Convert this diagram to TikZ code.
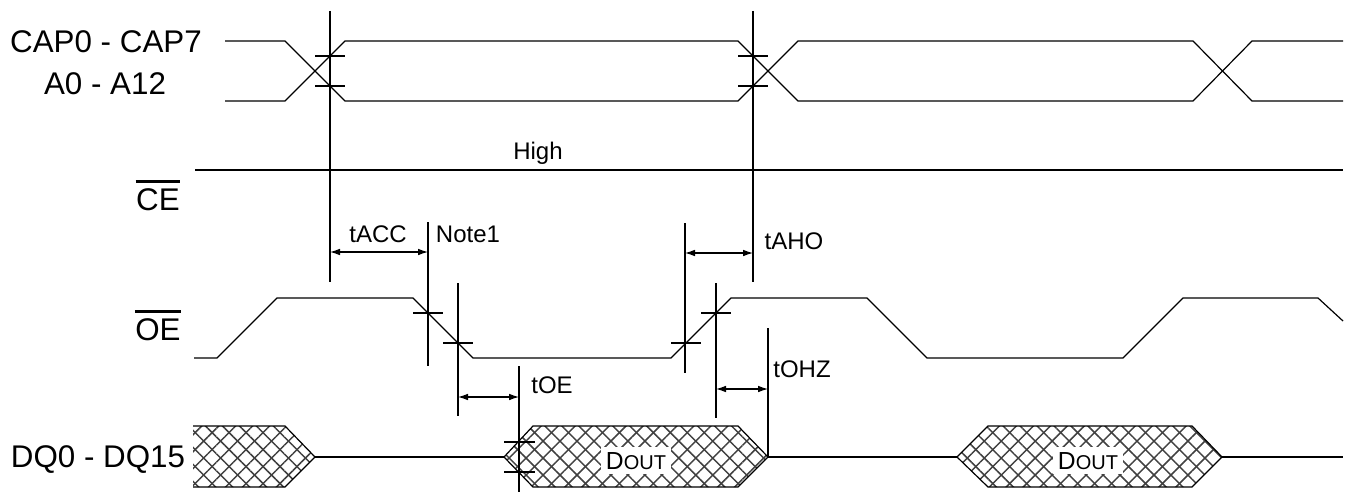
\documentclass[tikz,border=0pt]{standalone}
\usepackage{fontspec}
\setmainfont{Liberation Sans}
\usetikzlibrary{arrows.meta,patterns.meta}
\begin{document}
\begin{tikzpicture}[x=0.75pt,y=-0.75pt,line width=0.9pt,
  big/.style={font=\fontsize{23.5}{28}\selectfont,inner sep=0pt,anchor=base},
  lbl/.style={font=\fontsize{18}{22}\selectfont,inner sep=0pt,anchor=base},
  bar/.style={line width=1.7pt},
  dimarrow/.style={{Latex[length=7.5pt,width=5pt]}-{Latex[length=7.5pt,width=5pt]},line width=0.8pt},
  refline/.style={line width=0.9pt},
  hatch/.style={preaction={pattern={Lines[angle=45,distance=9pt,line width=1.1pt]},pattern color=black!75},
                preaction={pattern={Lines[angle=-45,distance=9pt,line width=1.1pt]},pattern color=black!75}},
  dout/.style={fill=white,inner xsep=3.5pt,inner ysep=3.5pt,anchor=base,font=\fontsize{18.5}{22}\selectfont}
]
\useasboundingbox (0,0) rectangle (1345,492);

% ---------- labels ----------
\node[big] (capl) at (106,53) {CAP0 - CAP7};
\node[big] (al) at (105,94) {A0 - A12};
\node[big] (cel) at (158,210) {CE};
\node[big] (oel) at (158,340) {OE};
\draw[bar] ([yshift=4.5pt]cel.north west)--([yshift=4.5pt]cel.north east);
\draw[bar] ([yshift=4.5pt]oel.north west)--([yshift=4.5pt]oel.north east);
\node[big] (dql) at (98,467) {DQ0 - DQ15};
\node[lbl] (high) at (538,159) {High};
\node[lbl] (tacc) at (378,242) {tACC};
\node[lbl] (note) at (468,242) {Note1};
\node[lbl] (taho) at (794,249) {tAHO};
\node[lbl] (tohz) at (802,377) {tOHZ};
\node[lbl] (toe) at (552,393) {tOE};

% ---------- address bus ----------
\draw (225,41)--(285,41)--(345,101)--(738,101)--(798,41)--(1193,41)--(1252,101)--(1343,101);
\draw (225,101)--(285,101)--(345,41)--(738,41)--(798,101)--(1193,101)--(1252,41)--(1343,41);
% ticks on crossings
\draw (315,56)--(345,56) (315,86)--(345,86);
\draw (738,56)--(768,56) (738,86)--(768,86);

% ---------- CE ----------
\draw (195,170)--(1343,170);

% ---------- OE ----------
\draw (194,358)--(217,358)--(277,298)--(413,298)--(473,358)--(671,358)--(731,298)--(867,298)--(927,358)--(1123,358)--(1183,298)--(1318,298)--(1343,321);
\draw (413,313)--(443,313) (443,343)--(473,343);
\draw (671,343)--(701,343) (701,313)--(731,313);

% ---------- DQ ----------
\path[hatch] (193,426)--(285,426)--(315,457)--(285,487)--(193,487)--cycle;
\draw (193,426)--(285,426)--(315,457)--(285,487)--(193,487);
\draw (315,457)--(504,457);
\path[hatch,draw] (504,457)--(533,426)--(738,426)--(768,457)--(738,487)--(533,487)--cycle;
\draw (768,457)--(957,457);
\path[hatch,draw] (957,457)--(988,426)--(1192,426)--(1222,457)--(1192,487)--(988,487)--cycle;
\draw (1222,457)--(1343,457);
\draw (504,442)--(535,442) (504,472)--(535,472);
\node[dout] (dout1) at (636,469) {D{\fontsize{15}{18}\selectfont OUT}};
\node[dout] (dout2) at (1088,469) {D{\fontsize{15}{18}\selectfont OUT}};

% ---------- reference lines ----------
\coordinate (v1t) at (330,11);  \coordinate (v1b) at (330,282);
\coordinate (v2t) at (753,11);  \coordinate (v2b) at (753,282);
\coordinate (v3t) at (428,222); \coordinate (v3b) at (428,366);
\coordinate (v4t) at (458,283); \coordinate (v4b) at (458,416);
\coordinate (v5t) at (519,366); \coordinate (v5b) at (519,492);
\coordinate (v6t) at (685,223); \coordinate (v6b) at (685,373);
\coordinate (v7t) at (716,283); \coordinate (v7b) at (716,418);
\coordinate (v8t) at (768,328); \coordinate (v8b) at (768,457);
\foreach \i in {1,...,8} {\draw[refline] (v\i t)--(v\i b);}

% ---------- timing arrows ----------
\coordinate (a1l) at (330,252); \coordinate (a1r) at (428,252);
\coordinate (a2l) at (685,253); \coordinate (a2r) at (753,253);
\coordinate (a3l) at (458,397); \coordinate (a3r) at (519,397);
\coordinate (a4l) at (716,389); \coordinate (a4r) at (768,389);
\draw[dimarrow] (a1l)--(a1r);
\draw[dimarrow] (a2l)--(a2r);
\draw[dimarrow] (a3l)--(a3r);
\draw[dimarrow] (a4l)--(a4r);
\end{tikzpicture}
\end{document}
